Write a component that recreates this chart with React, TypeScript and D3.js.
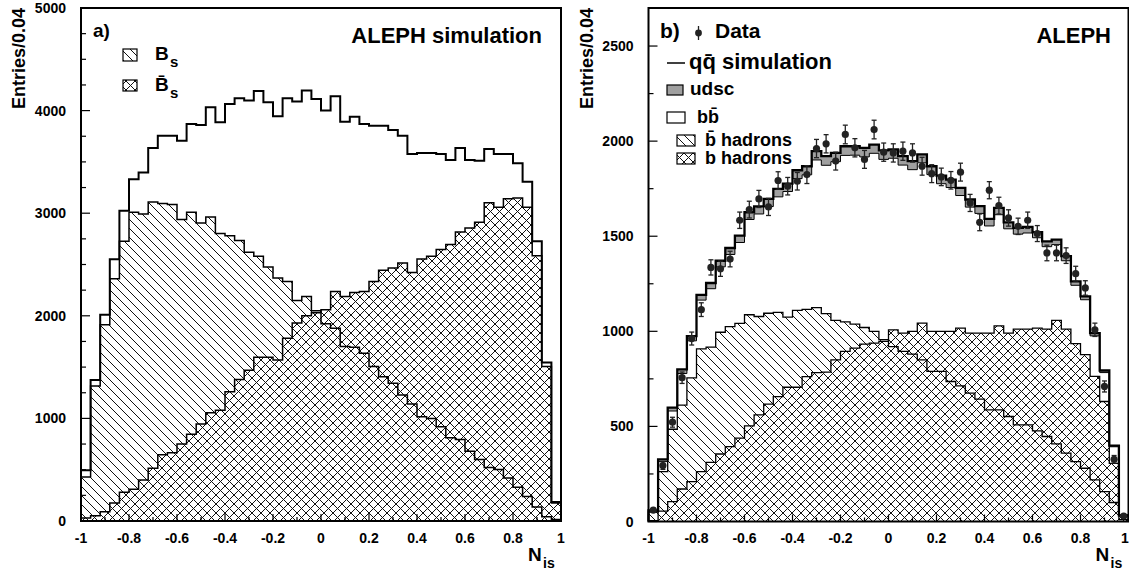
import React from 'react';
import * as d3 from 'd3';

// ---- data (50 bins of width 0.04 over [-1, 1]) ----
// panel a) ALEPH simulation
const leftTotal = [495, 1374, 2010, 2550, 3023, 3332, 3397, 3635, 3756, 3756, 3707, 3870, 3860, 4032, 3886, 4065, 4120, 4098, 4192, 4081, 3944, 4120, 4088, 4195, 4114, 4000, 4140, 3892, 3941, 3870, 3853, 3853, 3811, 3756, 3576, 3586, 3586, 3576, 3518, 3635, 3518, 3511, 3625, 3576, 3576, 3488, 3306, 2726, 1544, 186];
const leftBs = [430, 1316, 1912, 2361, 2726, 3009, 2993, 3110, 3094, 3084, 2938, 3009, 2905, 2964, 2801, 2781, 2733, 2619, 2580, 2475, 2368, 2335, 2150, 2189, 2050, 1922, 1879, 1700, 1694, 1635, 1505, 1407, 1342, 1228, 1140, 1016, 1000, 918, 811, 795, 680, 599, 521, 502, 420, 328, 240, 137, 42, 15];
const leftBsBar = [30, 50, 90, 175, 280, 310, 400, 515, 645, 665, 750, 845, 945, 1055, 1080, 1260, 1380, 1470, 1595, 1595, 1570, 1780, 1930, 2000, 2030, 2058, 2238, 2189, 2228, 2238, 2335, 2443, 2466, 2514, 2423, 2553, 2580, 2645, 2694, 2817, 2856, 2912, 3101, 3058, 3140, 3149, 3058, 2586, 1505, 176];

// panel b) data vs qqbar simulation
const rightData = [60, 294, 522, 756, 962, 1114, 1336, 1329, 1380, 1584, 1640, 1696, 1654, 1793, 1763, 1789, 1824, 1961, 1986, 1895, 2035, 1965, 1904, 2061, 1942, 1938, 1947, 1938, 1868, 1829, 1812, 1794, 1837, 1675, 1573, 1742, 1661, 1596, 1552, 1584, 1514, 1412, 1412, 1398, 1303, 1228, 1008, 710, 327, 29];
const rightErr = [10, 20, 26, 30, 34, 36, 40, 40, 41, 43, 44, 45, 45, 46, 46, 46, 47, 48, 48, 47, 49, 48, 47, 49, 48, 48, 48, 48, 47, 47, 46, 46, 47, 45, 44, 45, 44, 43, 43, 43, 42, 41, 41, 41, 39, 38, 35, 29, 20, 8];
const rightBB = [55, 315, 581, 778, 950, 1164, 1224, 1339, 1404, 1467, 1588, 1617, 1656, 1707, 1735, 1803, 1823, 1901, 1873, 1892, 1925, 1926, 1917, 1936, 1904, 1910, 1874, 1850, 1886, 1824, 1776, 1756, 1714, 1653, 1620, 1554, 1613, 1539, 1511, 1517, 1492, 1445, 1456, 1371, 1242, 1166, 976, 783, 393, 30];
const rightUdsc = [3, 12, 18, 22, 25, 28, 30, 32, 34, 36, 38, 40, 40, 42, 42, 44, 45, 46, 48, 46, 48, 47, 48, 46, 47, 46, 47, 45, 44, 44, 43, 42, 40, 40, 38, 37, 36, 34, 33, 32, 30, 28, 26, 24, 21, 18, 15, 11, 6, 2];
const rightBbarHad = [50, 262, 485, 612, 755, 908, 917, 995, 1025, 1042, 1087, 1078, 1095, 1100, 1075, 1110, 1115, 1125, 1093, 1058, 1050, 1038, 1020, 1000, 956, 920, 894, 880, 850, 789, 789, 736, 713, 675, 643, 587, 587, 552, 508, 508, 477, 447, 408, 359, 315, 280, 219, 157, 100, 10];
const rightBHad = [5, 55, 104, 171, 210, 262, 311, 355, 394, 438, 503, 561, 617, 657, 706, 706, 762, 783, 785, 850, 894, 912, 933, 938, 947, 1008, 991, 1000, 1043, 1000, 1000, 1000, 1017, 991, 991, 991, 1029, 991, 1012, 1012, 1017, 1012, 1057, 1012, 935, 877, 763, 631, 306, 34];

const xTickValues = [-1, -0.8, -0.6, -0.4, -0.2, 0, 0.2, 0.4, 0.6, 0.8, 1];
const xTickLabels = ['-1', '-0.8', '-0.6', '-0.4', '-0.2', '0', '0.2', '0.4', '0.6', '0.8', '1'];
const leftYTicks = [0, 1000, 2000, 3000, 4000, 5000];
const rightYTicks = [0, 500, 1000, 1500, 2000, 2500];

const FONT = '"Liberation Sans", Arial, Helvetica, sans-serif';
const W = 1129, H = 579;
type P = [number, number];
type Scale = d3.ScaleLinear<number, number>;

function binEdges(n: number) {
  return d3.range(n + 1).map(i => -1 + (2 * i) / n);
}

// histogram outline: up from zero, across each bin, back down to zero
function stepPts(vals: number[]): P[] {
  const e = binEdges(vals.length);
  const pts: P[] = [[e[0], 0]];
  vals.forEach((v, i) => pts.push([e[i], v], [e[i + 1], v]));
  pts.push([e[vals.length], 0]);
  return pts;
}

function Hist({ vals, x, y, fill, stroke, sw }: { vals: number[]; x: Scale; y: Scale; fill?: string; stroke?: string; sw?: number }) {
  const pts = stepPts(vals);
  if (fill) {
    const area = d3.area<P>().x(d => x(d[0])).y0(y(0)).y1(d => y(d[1]));
    return <path d={area(pts) ?? ''} fill={fill} stroke="none" />;
  }
  const line = d3.line<P>().x(d => x(d[0])).y(d => y(d[1]));
  return <path d={line(pts) ?? ''} fill="none" stroke={stroke ?? '#000'} strokeWidth={sw ?? 1.5} />;
}

function Axes({ x, y, yTicks, yMinorStep, yMax, titleX }: { x: Scale; y: Scale; yTicks: number[]; yMinorStep: number; yMax: number; titleX: number }) {
  const [x0, x1] = x.range();
  const [yb, yt] = y.range();
  const yMinor = d3.range(0, yMax + 1, yMinorStep);
  const xMinor = d3.range(-10, 11).map(i => i / 10);
  return (
    <g fontFamily={FONT} fontWeight="bold">
      {yMinor.map(v => (
        <line key={'ym' + v} x1={x0} x2={x0 + (yTicks.includes(v) ? 9 : 5)} y1={y(v)} y2={y(v)} stroke="#000" strokeWidth={1.2} />
      ))}
      {xMinor.map(v => (
        <line key={'xm' + v} x1={x(v)} x2={x(v)} y1={yb} y2={yb - (Math.round(v * 10) % 2 === 0 ? 7 : 4)} stroke="#000" strokeWidth={1.2} />
      ))}
      {yTicks.map(v => (
        <text key={'yl' + v} x={x0 - 15} y={y(v) + 5} textAnchor="end" fontSize={14}>{v}</text>
      ))}
      {xTickValues.map((v, i) => {
        const px = Math.min(x(v), W - 4);
        return <text key={'xl' + v} x={px} y={543} textAnchor="middle" fontSize={14}>{xTickLabels[i]}</text>;
      })}
      <rect x={x0} y={yt} width={x1 - x0} height={yb - yt} fill="none" stroke="#000" strokeWidth={2} />
      <text transform={`translate(${titleX},8) rotate(-90)`} textAnchor="end" fontSize={18}>Entries/0.04</text>
      <text x={x1 - 33} y={561} fontSize={19}>N</text>
      <text x={x1 - 18} y={568} fontSize={14}>is</text>
    </g>
  );
}

export default function App() {
  const xL = d3.scaleLinear().domain([-1, 1]).range([81, 561]);
  const yL = d3.scaleLinear().domain([0, 5000]).range([521, 8]);
  const xR = d3.scaleLinear().domain([-1, 1]).range([648.5, 1128.5]);
  const yR = d3.scaleLinear().domain([0, 2700]).range([521.5, 8]);

  // udsc stacked on top of bb
  const rows = rightBB.map((bb, i) => ({ bb, udsc: rightUdsc[i] }));
  const stacked = d3.stack<{ bb: number; udsc: number }>().keys(['bb', 'udsc'])(rows);
  const e = binEdges(rows.length);
  const band: [number, number, number][] = [];
  stacked[1].forEach((s, i) => band.push([e[i], s[0], s[1]], [e[i + 1], s[0], s[1]]));
  const bandArea = d3.area<[number, number, number]>().x(d => xR(d[0])).y0(d => yR(d[1])).y1(d => yR(d[2]));
  const qqTop = stacked[1].map(s => s[1]);
  const bbTop = stacked[0].map(s => s[1]);
  const mids = binEdges(rightData.length).slice(0, -1).map(v => v + 1 / rightData.length);

  return (
    <div style={{ position: 'absolute', left: 0, top: 0, width: W, height: H, background: '#fff' }}>
      <svg width={W} height={H} viewBox={`0 0 ${W} ${H}`} style={{ display: 'block' }}>
        <defs>
          <pattern id="hatch" patternUnits="userSpaceOnUse" width={9} height={9}>
            <path d="M-2,-2 L11,11" stroke="#111" strokeWidth={1} />
          </pattern>
          <pattern id="cross" patternUnits="userSpaceOnUse" width={9} height={9}>
            <path d="M-2,-2 L11,11 M-2,11 L11,-2" stroke="#111" strokeWidth={1} />
          </pattern>
        </defs>
        <rect width={W} height={H} fill="#fff" />

        {/* ---- panel a ---- */}
        <Hist vals={leftBs} x={xL} y={yL} fill="url(#hatch)" />
        <Hist vals={leftBsBar} x={xL} y={yL} fill="url(#cross)" />
        <Hist vals={leftBs} x={xL} y={yL} sw={1.5} />
        <Hist vals={leftBsBar} x={xL} y={yL} sw={1.5} />
        <Hist vals={leftTotal} x={xL} y={yL} sw={2} />
        <Axes x={xL} y={yL} yTicks={leftYTicks} yMinorStep={250} yMax={5000} titleX={25} />
        <g fontFamily={FONT} fontWeight="bold">
          <text x={93} y={37} fontSize={19}>a)</text>
          <text x={542} y={43} fontSize={22} textAnchor="end">ALEPH simulation</text>
          <rect x={123} y={49} width={14} height={12} fill="url(#hatch)" stroke="#000" strokeWidth={1.2} />
          <text x={155} y={60} fontSize={19}>B</text>
          <text x={170} y={67} fontSize={15}>s</text>
          <rect x={123} y={80} width={14} height={11} fill="url(#cross)" stroke="#000" strokeWidth={1.2} />
          <text x={155} y={91} fontSize={19}>{'B\u0304'}</text>
          <text x={170} y={98} fontSize={15}>s</text>
        </g>

        {/* ---- panel b ---- */}
        <path d={bandArea(band) ?? ''} fill="#a0a0a0" />
        <Hist vals={rightBbarHad} x={xR} y={yR} fill="url(#hatch)" />
        <Hist vals={rightBHad} x={xR} y={yR} fill="url(#cross)" />
        <Hist vals={rightBbarHad} x={xR} y={yR} sw={1.3} />
        <Hist vals={rightBHad} x={xR} y={yR} sw={1.3} />
        <Hist vals={bbTop} x={xR} y={yR} sw={1} />
        <Hist vals={qqTop} x={xR} y={yR} sw={2.3} />
        <g fill="#222" stroke="#222">
          {rightData.map((v, i) => (
            <g key={i}>
              <line x1={xR(mids[i])} x2={xR(mids[i])} y1={yR(v - rightErr[i])} y2={yR(v + rightErr[i])} strokeWidth={1.3} />
              <line x1={xR(mids[i]) - 2.5} x2={xR(mids[i]) + 2.5} y1={yR(v - rightErr[i])} y2={yR(v - rightErr[i])} strokeWidth={1.3} />
              <line x1={xR(mids[i]) - 2.5} x2={xR(mids[i]) + 2.5} y1={yR(v + rightErr[i])} y2={yR(v + rightErr[i])} strokeWidth={1.3} />
              <circle cx={xR(mids[i])} cy={yR(v)} r={3.6} stroke="none" />
            </g>
          ))}
        </g>
        <Axes x={xR} y={yR} yTicks={rightYTicks} yMinorStep={250} yMax={2600} titleX={593} />
        <g fontFamily={FONT} fontWeight="bold">
          <text x={660} y={38} fontSize={21}>b)</text>
          <line x1={698.5} x2={698.5} y1={26} y2={40} stroke="#222" strokeWidth={1.3} />
          <circle cx={698.5} cy={33} r={3.4} fill="#222" />
          <text x={715} y={38} fontSize={21}>Data</text>
          <text x={1111} y={43} fontSize={22} textAnchor="end">ALEPH</text>
          <line x1={667} x2={685} y1={63} y2={63} stroke="#000" strokeWidth={1.5} />
          <text x={689} y={69} fontSize={22}>{'qq\u0304 simulation'}</text>
          <rect x={667} y={85} width={16} height={10} fill="#a0a0a0" stroke="#000" strokeWidth={1.2} />
          <text x={690} y={95} fontSize={19}>udsc</text>
          <rect x={667} y={112} width={18} height={11} fill="#fff" stroke="#000" strokeWidth={1.2} />
          <text x={697} y={123} fontSize={18}>{'bb\u0304'}</text>
          <rect x={677} y={135} width={18} height={11} fill="url(#hatch)" stroke="#000" strokeWidth={1.2} />
          <text x={705} y={146} fontSize={18}>{'b\u0304 hadrons'}</text>
          <rect x={677} y={153} width={18} height={11} fill="url(#cross)" stroke="#000" strokeWidth={1.2} />
          <text x={705} y={164} fontSize={18}>b hadrons</text>
        </g>
      </svg>
    </div>
  );
}
